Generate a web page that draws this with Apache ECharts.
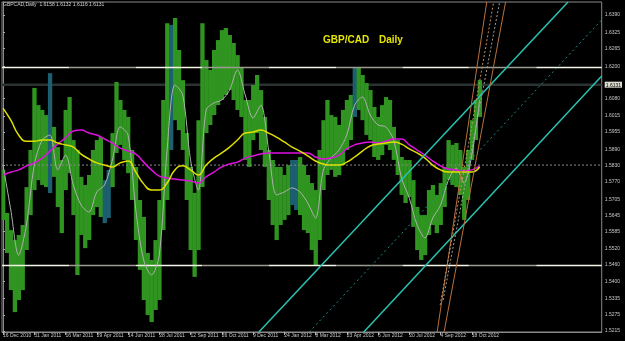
<!DOCTYPE html>
<html><head><meta charset="utf-8">
<script src="https://cdn.jsdelivr.net/npm/echarts@6/dist/echarts.min.js"></script>
<style>html,body{margin:0;padding:0;background:#000;}#c{width:625px;height:341px;}</style>
</head><body><div id="c"></div>
<script>
// ---- data ----
const dateLabels = ['16 Dec 2010','31 Jan 2011','16 Mar 2011','29 Apr 2011','14 Jun 2011','28 Jul 2011','12 Sep 2011','26 Oct 2011','9 Dec 2011','24 Jan 2012','8 Mar 2012','23 Apr 2012','6 Jun 2012','20 Jul 2012','4 Sep 2012','18 Oct 2012'];
const dateTickIdx = [0,32,64,96,128,160,192,224,256,288,320,352,384,416,448,480];
const yTickLabels = ['1.6390','1.6325','1.6265','1.6200','1.6131','1.6080','1.6015','1.5955','1.5890','1.5830','1.5770','1.5705','1.5645','1.5585','1.5520','1.5460','1.5400','1.5335','1.5275','1.5215'];
const lastPrice = '1.6131';
const barStep = 4;   // one entry per 4 trading days
const priceHigh = [1.5814,1.5654,1.5590,1.5553,1.5572,1.5609,1.5750,1.5888,1.6119,1.6055,
 1.6037,1.6018,1.6174,1.5974,1.5899,1.5851,1.6037,1.6085,1.5925,1.5888,
 1.5788,1.5758,1.5795,1.5888,1.5925,1.5936,1.5776,1.5814,1.5951,1.6141,
 1.6074,1.6037,1.6011,1.5888,1.5825,1.5702,1.5639,1.5505,1.5479,1.5553,
 1.5702,1.6074,1.6360,1.6353,1.6379,1.6260,1.6148,1.5951,1.5825,1.5728,
 1.5999,1.6360,1.6223,1.6186,1.6260,1.6297,1.6334,1.6342,1.6316,1.6286,
 1.6241,1.6197,1.6074,1.6074,1.6130,1.6167,1.6111,1.6011,1.5888,1.5851,
 1.5825,1.5825,1.5795,1.5832,1.5851,1.5851,1.5862,1.5832,1.5795,1.5765,
 1.5739,1.5888,1.5999,1.6074,1.6018,1.6011,1.5981,1.6037,1.6074,1.6093,
 1.6197,1.6197,1.6167,1.6137,1.6111,1.6048,1.6011,1.6055,1.6085,1.6074,
 1.5974,1.5925,1.5862,1.5851,1.5851,1.5776,1.5676,1.5646,1.5646,1.5739,
 1.5758,1.5721,1.5765,1.5825,1.5925,1.5907,1.5914,1.5888,1.5825,1.5888,
 1.5999,1.6074,1.6148];
const priceLow = [1.5628,1.5505,1.5367,1.5285,1.5330,1.5367,1.5516,1.5646,1.5739,1.5776,
 1.5758,1.5750,1.5728,1.5788,1.5676,1.5579,1.5739,1.5802,1.5646,1.5423,
 1.5572,1.5523,1.5553,1.5646,1.5676,1.5639,1.5616,1.5635,1.5750,1.5877,
 1.5907,1.5851,1.5802,1.5702,1.5553,1.5442,1.5330,1.5274,1.5248,1.5293,
 1.5330,1.5590,1.5702,1.5888,1.5999,1.5962,1.5888,1.5702,1.5516,1.5416,
 1.5516,1.5750,1.5951,1.5981,1.6018,1.6055,1.6074,1.6093,1.6111,1.6074,
 1.6037,1.6011,1.5851,1.5825,1.5925,1.5951,1.5888,1.5825,1.5702,1.5609,
 1.5553,1.5609,1.5628,1.5646,1.5683,1.5665,1.5646,1.5590,1.5579,1.5516,
 1.5460,1.5553,1.5739,1.5795,1.5814,1.5788,1.5795,1.5832,1.5888,1.5925,
 1.6011,1.6037,1.5999,1.5944,1.5925,1.5862,1.5851,1.5869,1.5907,1.5888,
 1.5851,1.5795,1.5721,1.5691,1.5713,1.5602,1.5516,1.5479,1.5497,1.5572,
 1.5609,1.5579,1.5609,1.5676,1.5776,1.5758,1.5750,1.5721,1.5628,1.5702,
 1.5851,1.5925,1.6011];
const bearBars = [12, 26, 27, 43, 74, 75, 90];
const lineStep = 8;  // one entry per 8 trading days
const greyLine = [1.5832,1.5665,1.5497,1.5609,1.5832,1.5925,1.5944,1.5814,1.5869,1.5758,
 1.5683,1.5657,1.5732,1.5758,1.5851,1.5974,1.5944,1.5665,1.5479,1.5423,
 1.5497,1.5888,1.6130,1.6093,1.5851,1.5739,1.6037,1.6063,1.6074,1.6111,
 1.6186,1.6093,1.6007,1.6055,1.5888,1.5721,1.5732,1.5747,1.5732,1.5691,
 1.5635,1.5814,1.5858,1.5888,1.5944,1.6055,1.6085,1.6018,1.5981,1.5974,
 1.5925,1.5784,1.5709,1.5609,1.5561,1.5635,1.5683,1.5776,1.5821,1.5765,
 1.5869,1.6074];
const yellowMA = [1.6044,1.5999,1.5944,1.5921,1.5921,1.5925,1.5925,1.5914,1.5907,1.5899,
 1.5873,1.5855,1.5840,1.5832,1.5825,1.5840,1.5847,1.5806,1.5762,1.5739,
 1.5739,1.5765,1.5814,1.5829,1.5814,1.5795,1.5832,1.5858,1.5877,1.5899,
 1.5925,1.5951,1.5955,1.5962,1.5951,1.5936,1.5918,1.5899,1.5884,1.5866,
 1.5847,1.5836,1.5832,1.5832,1.5843,1.5862,1.5884,1.5903,1.5910,1.5914,
 1.5918,1.5910,1.5892,1.5877,1.5858,1.5832,1.5814,1.5806,1.5806,1.5806,
 1.5806,1.5825];
const magentaMA = [1.5795,1.5806,1.5814,1.5829,1.5840,1.5858,1.5884,1.5910,1.5933,1.5959,
 1.5962,1.5951,1.5944,1.5929,1.5914,1.5895,1.5884,1.5873,1.5843,1.5814,
 1.5791,1.5784,1.5780,1.5776,1.5773,1.5765,1.5788,1.5806,1.5825,1.5836,
 1.5843,1.5858,1.5866,1.5873,1.5877,1.5877,1.5877,1.5877,1.5877,1.5877,
 1.5862,1.5855,1.5858,1.5869,1.5892,1.5907,1.5914,1.5918,1.5914,1.5921,
 1.5929,1.5929,1.5907,1.5888,1.5869,1.5847,1.5829,1.5817,1.5814,1.5810,
 1.5814,1.5829];
const upperLevel = 1.6195;
const lowerLevel = 1.5458;
const pivotLevel = 1.5832;
const levelBreaks = [-1, 68, 136, 204, 272, 341, 409, 477, 546, 613];
const channelUpper = [[262, 1.5211], [578.5, 1.6439]];
const channelLower = [[369.4, 1.5211], [613, 1.6163]];
const channelMid = [[313.6, 1.5211], [613, 1.6372]];
const fanLines = [
  [[444.5, 1.5211], [495.3, 1.6439]],
  [[447.6, 1.5311], [502.4, 1.6439]],
  [[450.6, 1.5330], [508.5, 1.6439]],
  [[451.6, 1.5211], [514.6, 1.6439]]
];
const headerText = 'GBPCAD,Daily  1.6158 1.6132 1.6116 1.6131';

// ---- chart ----
const X_MIN = -1, X_MAX = 613;
const chart = echarts.init(document.getElementById('c'), null, {renderer: 'canvas'});
const series = [];

series.push({
  type: 'custom', clip: true, z: 2,
  encode: {x: 0, y: [1, 2]},
  data: priceLow.map((l, k) => [k * barStep, l, priceHigh[k], bearBars.includes(k) ? 1 : 0]),
  renderItem: (params, api) => {
    const i = api.value(0);
    const p1 = api.coord([i - barStep / 2, api.value(2)]);
    const p2 = api.coord([i + barStep / 2, api.value(1)]);
    return {type: 'rect', shape: {x: p1[0], y: p1[1], width: p2[0] - p1[0] + 0.4, height: p2[1] - p1[1]},
      style: {fill: api.value(3) ? '#1c5f70' : '#2f9420'}};
  }
});

function lineSeries(data, color, width, type, z, smooth) {
  return {type: 'line', data, showSymbol: false, symbol: 'none', z: z || 3, smooth: smooth || false,
    lineStyle: {color, width, type: type || 'solid'}, silent: true, animation: false};
}
// horizontal levels
[upperLevel, lowerLevel].forEach(lv => {
  for (let s = 0; s < levelBreaks.length - 1; s++) {
    series.push(lineSeries([[levelBreaks[s], lv], [levelBreaks[s + 1], lv]], s % 2 === 0 ? '#f4f4e8' : '#9c9c90', 1.5, 'solid', 4));
  }
});
series.push(lineSeries([[X_MIN, +lastPrice], [X_MAX, +lastPrice]], '#2c3232', 2.5, 'solid', 1));
series.push(lineSeries([[X_MIN, pivotLevel], [X_MAX, pivotLevel]], '#8a8a8a', 1, [2, 2], 4));
// indicators
series.push(lineSeries(greyLine.map((v, j) => [j * lineStep, v]), '#b0b0b0', 1, 'solid', 5, 0.3));
series.push(lineSeries(magentaMA.map((v, j) => [j * lineStep, v]), '#e010e0', 1.5, 'solid', 6, 0.5));
series.push(lineSeries(yellowMA.map((v, j) => [j * lineStep, v]), '#e0e000', 1.5, 'solid', 6, 0.5));
// channel
series.push(lineSeries(channelUpper, '#28c4b2', 1.5, 'solid', 7));
series.push(lineSeries(channelLower, '#28c4b2', 1.5, 'solid', 7));
series.push(lineSeries(channelMid, '#1d8c8c', 1, [2, 3], 7));
const fanStyles = [['#b8703c', 'solid'], ['#c0905c', [2, 2]], ['#a0a0a0', [2, 2]], ['#b8703c', 'solid']];
fanLines.forEach((d, n) => series.push(lineSeries(d, fanStyles[n][0], 1, fanStyles[n][1], 7)));

const yVals = yTickLabels.map(Number);
chart.setOption({
  backgroundColor: '#000',
  animation: false,
  grid: {left: 1, top: 2, width: 605, height: 330, show: true, borderColor: '#8a8a8a', borderWidth: 1, backgroundColor: 'transparent'},
  xAxis: {
    type: 'value', min: X_MIN, max: X_MAX,
    axisLine: {show: true, lineStyle: {color: '#8a8a8a'}},
    splitLine: {show: false},
    axisTick: {show: true, length: 3, customValues: dateTickIdx, lineStyle: {color: '#b0b0b0'}},
    axisLabel: {customValues: dateTickIdx, fontSize: 5, color: '#c8c8c8', align: 'left', margin: 1,
      fontFamily: 'Liberation Sans, Arial, sans-serif',
      formatter: v => dateLabels[dateTickIdx.indexOf(Math.round(v))] || ''}
  },
  yAxis: {
    type: 'value', position: 'right', min: 1.52110, max: 1.64386,
    axisLine: {show: true, lineStyle: {color: '#8a8a8a'}},
    splitLine: {show: false},
    axisTick: {show: true, length: 2, customValues: yVals, lineStyle: {color: '#b0b0b0'}},
    axisLabel: {customValues: yVals, fontSize: 5, color: '#c8c8c8', margin: 3,
      fontFamily: 'Liberation Sans, Arial, sans-serif',
      formatter: v => {
        const s = yTickLabels.find(t => Math.abs(+t - v) < 1e-7) || '';
        return s === lastPrice ? '{cur|' + s + '}' : s;
      },
      rich: {cur: {fontSize: 5, color: '#000', backgroundColor: '#dcdcd0', padding: [1, 1, 0, 1],
        fontFamily: 'Liberation Sans, Arial, sans-serif'}}}
  },
  graphic: [
    {type: 'text', left: 3, top: 2, z: 100, style: {text: headerText, fill: '#d0d0d0', fontSize: 5, fontFamily: 'Liberation Sans, Arial, sans-serif'}},
    {type: 'text', left: 323, top: 35, z: 100, style: {text: 'GBP/CAD', fill: '#e6e600', fontSize: 10, fontWeight: 'bold', fontFamily: 'Liberation Sans, Arial, sans-serif'}},
    {type: 'text', left: 379, top: 35, z: 100, style: {text: 'Daily', fill: '#e6e600', fontSize: 10, fontWeight: 'bold', fontFamily: 'Liberation Sans, Arial, sans-serif'}}
  ],
  series
});
</script>
</body></html>
